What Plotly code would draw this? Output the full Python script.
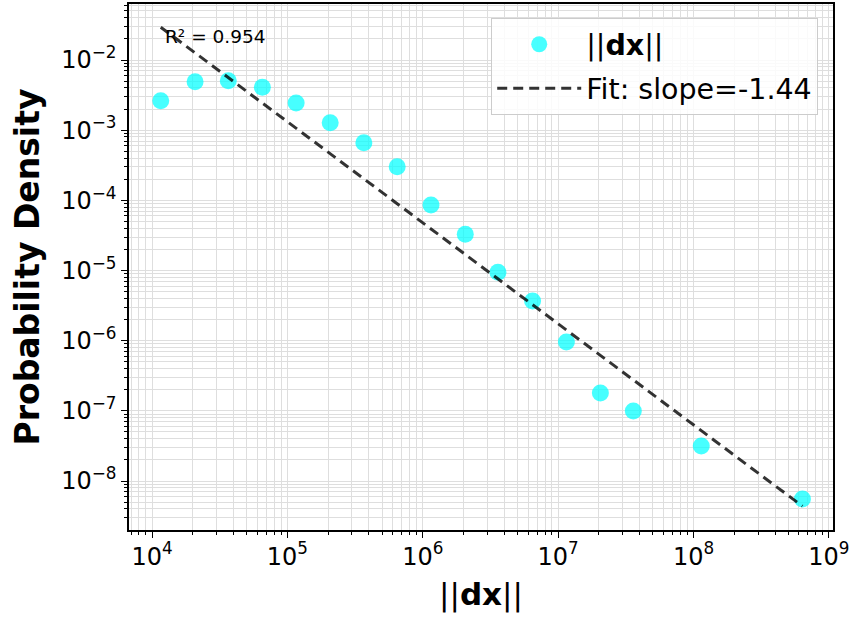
import numpy as np
import plotly.graph_objects as go

# data
dx_values = [1.16e4, 2.08e4, 3.66e4, 6.53e4, 1.16e5, 2.07e5, 3.67e5, 6.47e5,
             1.15e6, 2.06e6, 3.59e6, 6.47e6, 1.15e7, 2.05e7, 3.59e7, 1.14e8, 6.37e8]
density = [2.63e-3, 4.91e-3, 5.07e-3, 4.08e-3, 2.44e-3, 1.28e-3, 6.62e-4, 3.01e-4,
           8.59e-5, 3.28e-5, 9.44e-6, 3.67e-6, 9.57e-7, 1.80e-7, 9.95e-8, 3.16e-8, 5.55e-9]
fit_slope = -1.44
fit_log_intercept = 4.32
r_squared = 0.954

x_tickvals = [1e4, 1e5, 1e6, 1e7, 1e8, 1e9]
x_ticktext = ["10<sup>4</sup>", "10<sup>5</sup>", "10<sup>6</sup>", "10<sup>7</sup>",
              "10<sup>8</sup>", "10<sup>9</sup>"]
y_tickvals = [1e-2, 1e-3, 1e-4, 1e-5, 1e-6, 1e-7, 1e-8]
y_ticktext = ["10<sup>\u22122</sup>", "10<sup>\u22123</sup>", "10<sup>\u22124</sup>",
              "10<sup>\u22125</sup>", "10<sup>\u22126</sup>", "10<sup>\u22127</sup>",
              "10<sup>\u22128</sup>"]

fit_x = np.array([min(dx_values), max(dx_values)])
fit_y = 10 ** (fit_log_intercept + fit_slope * np.log10(fit_x))

FONT = "DejaVu Sans"
grid_c = "#dedede"

fig = go.Figure()
fig.add_trace(go.Scatter(
    x=dx_values, y=density, mode="markers",
    name="||<b>dx</b>||", legendgroup="a",
    marker=dict(color="cyan", size=17, opacity=0.72, line=dict(width=0)),
))
fig.add_trace(go.Scatter(
    x=fit_x, y=fit_y, mode="lines",
    name=f"Fit: slope={fit_slope:.2f}", legendgroup="b",
    line=dict(color="rgba(0,0,0,0.8)", width=3, dash="10px,6px"),
))

fig.add_annotation(
    x=0.048, y=0.962, xref="paper", yref="paper", xanchor="left", yanchor="top",
    text=f"R\u00b2 = {r_squared:.3f}", showarrow=False,
    font=dict(family=FONT, size=18.5, color="black"),
)

axis_common = dict(
    showline=True, linecolor="black", linewidth=1.5, mirror=True,
    ticks="outside", ticklen=6, tickwidth=1.3, tickcolor="black",
    showgrid=True, gridcolor=grid_c, gridwidth=1,
    tickfont=dict(family=FONT, size=24, color="black"),
    zeroline=False, automargin=False,
    minor=dict(ticks="outside", ticklen=3.5, tickwidth=1, tickcolor="black",
               showgrid=True, gridcolor=grid_c, gridwidth=1, dtick="D1"),
)

fig.update_xaxes(
    type="log", range=[3.83, 9.03],
    tickmode="array", tickvals=x_tickvals, ticktext=x_ticktext,
    ticklabelstandoff=-2,
    title=dict(text="||<b>dx</b>||", font=dict(family=FONT, size=31, color="black"),
               standoff=14),
    **axis_common,
)
fig.update_yaxes(
    type="log", range=[-8.698, -1.202],
    tickmode="array", tickvals=y_tickvals, ticktext=y_ticktext,
    title=dict(text="<b>Probability Density</b>",
               font=dict(family=FONT, size=33, color="black"), standoff=12),
    **axis_common,
)

fig.update_layout(
    width=853, height=617,
    margin=dict(l=129, r=20, t=4, b=87),
    paper_bgcolor="white", plot_bgcolor="white",
    font=dict(family=FONT, color="black"),
    legend=dict(
        x=0.979, y=0.973, xanchor="right", yanchor="top",
        bgcolor="rgba(255,255,255,0.85)", bordercolor="#cccccc", borderwidth=1,
        font=dict(family=FONT, size=28.5, color="black"),
        itemwidth=84, tracegroupgap=4,
    ),
)

fig.write_html("out.html", config={"displayModeBar": False},
               post_script="document.body.style.margin='0';document.body.style.overflow='hidden';")
